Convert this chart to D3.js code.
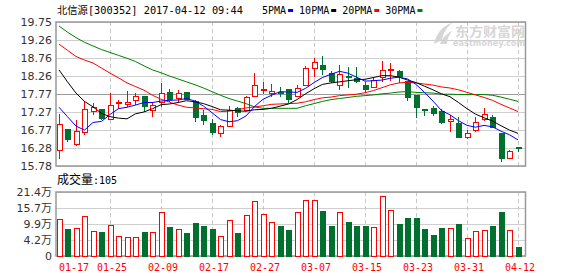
<!DOCTYPE html>
<html>
<head>
<meta charset="utf-8">
<script src="https://cdnjs.cloudflare.com/ajax/libs/d3/7.8.5/d3.min.js"></script>
<style>
body{margin:0;background:#fff;}
svg{display:block;}
</style>
</head>
<body>
<svg id="main"></svg>
<script>
//--------data----------
const dates = ['01-17','01-18','01-19','01-20','01-23','01-24','01-25','01-26',
  '02-03','02-06','02-07','02-08','02-09','02-10','02-13','02-14','02-15','02-16','02-17',
  '02-20','02-21','02-22','02-23','02-24','02-27','02-28',
  '03-01','03-02','03-03','03-06','03-07','03-08','03-09','03-10','03-13','03-14','03-15',
  '03-16','03-17','03-20','03-21','03-22','03-23','03-24','03-27','03-28','03-29','03-30','03-31',
  '04-05','04-06','04-07','04-10','04-11','04-12'];

const opens  = [16.22,16.80,16.36,16.70,17.28,17.34,17.07,17.49,17.48,17.59,17.70,17.32,17.53,17.80,17.64,17.80,17.56,17.18,16.94,16.68,16.86,17.37,17.32,17.70,17.85,17.79,17.82,17.88,17.69,18.00,18.47,18.54,18.34,18.01,18.24,18.20,18.01,17.95,18.23,18.41,18.39,18.10,17.71,17.34,17.36,17.28,17.02,16.94,16.56,16.77,17.05,17.12,16.68,15.99,16.28];
const highs  = [17.21,16.80,17.05,17.58,17.52,17.36,17.80,17.60,17.85,17.78,17.71,17.54,18.06,17.91,17.88,17.80,17.60,17.32,17.08,16.90,17.43,17.40,17.70,18.34,18.10,18.04,17.97,17.91,18.00,18.54,18.76,18.81,18.40,18.56,18.50,18.50,18.10,18.23,18.67,18.61,18.43,18.10,17.71,17.34,17.43,17.34,17.18,17.14,16.77,17.12,17.37,17.19,16.68,16.22,16.31];
const lows   = [15.96,16.45,16.33,16.63,17.19,17.05,17.05,17.34,17.40,17.45,17.27,17.14,17.40,17.54,17.54,17.60,17.00,16.90,16.63,16.59,16.86,17.14,17.30,17.70,17.77,17.69,17.67,17.51,17.67,17.99,18.23,18.29,18.06,17.88,17.92,18.06,17.83,17.95,18.10,18.13,18.08,17.57,17.11,17.17,17.17,16.94,16.73,16.57,16.52,16.73,17.03,16.85,15.90,15.99,16.17];
const closes = [16.93,16.50,16.74,17.34,17.38,17.08,17.45,17.54,17.53,17.70,17.41,17.45,17.77,17.60,17.77,17.62,17.11,17.03,16.70,16.86,17.30,17.25,17.67,18.00,17.90,17.83,17.77,17.62,17.91,18.47,18.64,18.45,18.10,18.31,18.21,18.10,17.88,18.15,18.41,18.45,18.24,17.66,17.38,17.32,17.23,16.97,17.06,16.57,16.68,16.99,17.19,16.85,15.99,16.19,16.26];

// volume, 万
const volumes = [12.3,8.7,9.3,13.3,8.1,7.7,10.3,6.6,6.3,6.3,7.7,7.7,14.4,9.4,8.9,7.4,11.0,10.0,8.7,6.6,11.9,7.4,13.6,18.2,13.9,11.3,9.7,8.4,14.4,18.6,18.6,15.0,9.7,14.4,11.1,10.0,9.7,9.6,20.0,15.2,10.7,12.7,12.4,8.7,6.7,9.1,9.1,10.4,6.0,8.1,8.6,10.0,14.7,8.6,2.8];

const ma5  = [17.40,17.14,16.88,16.77,16.98,17.01,17.20,17.36,17.40,17.46,17.53,17.53,17.57,17.59,17.60,17.64,17.57,17.43,17.25,17.06,17.00,17.03,17.16,17.42,17.62,17.73,17.83,17.82,17.81,17.92,18.08,18.22,18.31,18.39,18.34,18.23,18.12,18.13,18.15,18.20,18.23,18.18,18.03,17.81,17.57,17.31,17.19,17.03,16.90,16.85,16.90,16.86,16.74,16.64,16.50];
const ma10 = [18.43,18.10,17.79,17.56,17.41,17.23,17.14,17.10,17.08,17.22,17.27,17.36,17.47,17.49,17.53,17.58,17.55,17.50,17.42,17.33,17.32,17.30,17.29,17.33,17.34,17.37,17.43,17.49,17.61,17.77,17.91,18.03,18.07,18.10,18.13,18.16,18.17,18.22,18.27,18.27,18.23,18.15,18.08,17.98,17.88,17.77,17.69,17.53,17.36,17.21,17.11,17.02,16.89,16.77,16.68];
const ma20 = [19.14,18.97,18.80,18.70,18.62,18.48,18.34,18.21,18.07,17.97,17.87,17.73,17.62,17.54,17.46,17.40,17.38,17.36,17.34,17.28,17.29,17.33,17.38,17.41,17.44,17.48,17.49,17.50,17.51,17.55,17.61,17.66,17.68,17.72,17.74,17.76,17.80,17.86,17.94,18.02,18.07,18.09,18.07,18.04,18.01,17.96,17.93,17.88,17.81,17.74,17.67,17.59,17.48,17.38,17.28];
const ma30 = [19.64,19.47,19.32,19.19,19.09,18.99,18.91,18.83,18.75,18.66,18.54,18.43,18.35,18.26,18.18,18.10,18.02,17.93,17.83,17.73,17.64,17.57,17.50,17.41,17.37,17.37,17.37,17.37,17.37,17.44,17.50,17.56,17.61,17.64,17.67,17.70,17.72,17.74,17.77,17.79,17.82,17.83,17.81,17.80,17.79,17.76,17.76,17.75,17.75,17.75,17.75,17.73,17.68,17.62,17.56];

const priceTicks = [15.78,16.28,16.77,17.27,17.77,18.26,18.76,19.26,19.75];
const volMax = 21.4;
const volLabels = ['0','4.2万','9.9万','15.7万','21.4万'];

const maNames = ['5PMA','10PMA','20PMA','30PMA'];
const maColors = ['#0000ff','#000000','#ff0000','#008000'];

const title = '北信源[300352] 2017-04-12 09:44';
const volTitle = '成交量';
const lastVol = '105';

//--------code----------
const RED = '#ff0000', GREEN = '#00702f';
const W = 578, H = 276;
const plotL = 56, plotR = 525.5;
const priceTop = 22, priceBottom = 166;
const volTop = 192, volBottom = 256;
const monoFont = '"DejaVu Sans Mono","Noto Sans CJK SC",monospace';
const sansFont = '"DejaVu Sans","Noto Sans CJK SC",sans-serif';

let svg = d3.select('#main').attr('width', W).attr('height', H);

let n = dates.length;
let sx = d3.scaleBand().domain(d3.range(n)).range([54.75, 522.25]);
let bw = sx.bandwidth();
let cx = i => Math.floor(sx(i) + bw/2) + 0.5;
let sy = d3.scaleLinear().domain([priceTicks[0], priceTicks[priceTicks.length-1]]).range([priceBottom, priceTop]);
let sv = d3.scaleLinear().domain([0, volMax]).range([volBottom, volTop]);

let labelIdx = d3.range(n).filter(i => i % 6 === 0);

// watermark
let wm = svg.append('g').style('fill', '#d6d6d6');
wm.append('path')
  .attr('d', 'M434,44 C436,34 442,26 452,23 C446,28 443,34 442,40 Z M440,44 C443,37 447,33 452,31 C449,35 447,39 447,44 Z');
wm.append('text').attr('x', 455).attr('y', 35.5)
  .style('font-family', sansFont).style('font-size', '13px').style('font-weight', 'bold')
  .attr('textLength', 70).attr('lengthAdjust', 'spacingAndGlyphs').text('东方财富网');
wm.append('text').attr('x', 453).attr('y', 46)
  .style('font-family', sansFont).style('font-size', '8px').style('font-weight', 'bold')
  .attr('textLength', 72).attr('lengthAdjust', 'spacingAndGlyphs').text('eastmoney.com');

// price grid + labels
let gy = svg.append('g')
  .attr('transform', `translate(${plotL},0)`)
  .call(d3.axisLeft(sy).tickValues(priceTicks).tickSize(-(plotR-plotL)).tickPadding(4).tickFormat(d3.format('.2f')));
gy.select('.domain').remove();
gy.selectAll('line')
  .attr('stroke', d => d === 17.77 ? '#9a9a9a' : '#cfcfcf')
  .attr('shape-rendering', 'crispEdges');
gy.selectAll('text').style('font-family', sansFont).style('font-size', '11px').style('fill', '#333');

// volume grid + labels
let volTickVals = d3.range(5).map(k => volMax*k/4);
let gv = svg.append('g')
  .attr('transform', `translate(${plotL},0)`)
  .call(d3.axisLeft(sv).tickValues(volTickVals).tickSize(-(plotR-plotL)).tickPadding(4)
    .tickFormat((d,i) => volLabels[i]));
gv.select('.domain').remove();
gv.selectAll('line').attr('stroke', '#cfcfcf').attr('shape-rendering', 'crispEdges');
gv.selectAll('text').style('font-family', sansFont).style('font-size', '11px').style('fill', '#333');

// vertical dashed grid
[[priceTop, priceBottom], [volTop, volBottom]].forEach(([t, b]) => {
  svg.append('g').selectAll('line')
    .data(labelIdx.filter(i => i > 0))
    .join('line')
    .attr('x1', cx).attr('x2', cx)
    .attr('y1', t).attr('y2', b)
    .attr('stroke', '#c8c8c8')
    .attr('stroke-dasharray', '4,3')
    .attr('shape-rendering', 'crispEdges');
});

// frames
[[priceTop, priceBottom], [volTop, volBottom]].forEach(([t, b]) => {
  svg.append('rect')
    .attr('x', plotL).attr('y', t)
    .attr('width', plotR-plotL).attr('height', b-t)
    .attr('fill', 'none').attr('stroke', '#999').attr('stroke-width', 1.5);
});

// date axis
let gx = svg.append('g')
  .attr('transform', `translate(0,${volBottom})`)
  .call(d3.axisBottom(sx).tickValues(labelIdx).tickSize(0).tickPadding(7.5).tickFormat(i => dates[i]));
gx.select('.domain').remove();
gx.selectAll('text')
  .style('font-family', monoFont).style('font-size', '10px').style('fill', RED)
  .attr('dx', 2)
  .filter(i => i === 0).attr('text-anchor', 'start').attr('dx', 0);

// candles
let up = i => closes[i] >= opens[i];
let gc = svg.append('g').attr('shape-rendering', 'crispEdges');
gc.selectAll('.wick')
  .data(d3.range(n))
  .join('line')
  .attr('class', 'wick')
  .attr('x1', cx).attr('x2', cx)
  .attr('y1', i => sy(highs[i])).attr('y2', i => sy(lows[i]))
  .attr('stroke', i => up(i) ? RED : GREEN);
gc.selectAll('.body')
  .data(d3.range(n))
  .join('rect')
  .attr('class', 'body')
  .attr('x', i => cx(i) - 2.5).attr('width', 5)
  .attr('y', i => sy(Math.max(opens[i], closes[i])))
  .attr('height', i => Math.max(1, Math.abs(sy(opens[i]) - sy(closes[i]))))
  .attr('fill', i => up(i) ? '#fff' : GREEN)
  .attr('stroke', i => up(i) ? RED : GREEN);

// moving averages
let line = d3.line().x((d,i) => sx(i) + bw/2).y(d => sy(d));
svg.append('g').selectAll('path')
  .data([ma30, ma20, ma10, ma5])
  .join('path')
  .attr('d', line)
  .attr('fill', 'none')
  .attr('stroke', (d,i) => maColors[3-i])
  .attr('stroke-width', 1);

// volume bars
svg.append('g').attr('shape-rendering', 'crispEdges')
  .selectAll('rect')
  .data(d3.range(n))
  .join('rect')
  .attr('x', i => cx(i) - 2.5).attr('width', 5)
  .attr('y', i => sv(volumes[i]))
  .attr('height', i => volBottom - sv(volumes[i]))
  .attr('fill', i => up(i) ? '#fff' : GREEN)
  .attr('stroke', i => up(i) ? RED : GREEN);

// title
svg.append('text')
  .attr('x', 57).attr('y', 14)
  .style('font-family', monoFont).style('font-size', '10.3px').style('fill', '#000')
  .text(title);

// legend
let lx = 262;
maNames.forEach((name, k) => {
  let t = svg.append('text')
    .attr('x', lx).attr('y', 14)
    .style('font-family', monoFont).style('font-size', '10px').style('fill', '#000')
    .text(name);
  let len = t.node().getComputedTextLength();
  svg.append('rect')
    .attr('x', lx + len + 2).attr('y', 9)
    .attr('width', 5).attr('height', 3)
    .attr('fill', maColors[k]);
  lx += len + 2 + 5 + 6;
});

// volume title
let vt = svg.append('text')
  .attr('x', 57).attr('y', 184)
  .style('fill', '#000');
vt.append('tspan').style('font-family', sansFont).style('font-size', '12px').text(volTitle);
vt.append('tspan').style('font-family', monoFont).style('font-size', '10px').text(':' + lastVol);
</script>
</body>
</html>
